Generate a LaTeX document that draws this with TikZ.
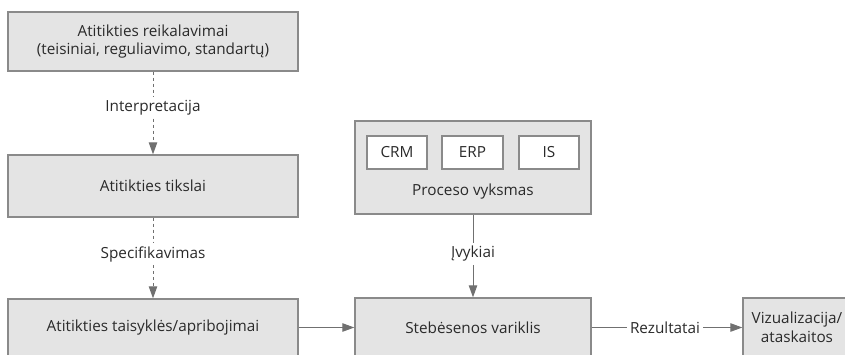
\documentclass[tikz,border=0pt]{standalone}
\usepackage{fontspec}
\setmainfont{Open Sans}
\usetikzlibrary{arrows.meta}
\definecolor{boxfill}{HTML}{E4E4E4}
\definecolor{boxline}{HTML}{8A8A8A}
\definecolor{wire}{HTML}{707070}
\definecolor{ink}{HTML}{2A2A2A}
\begin{document}
\begin{tikzpicture}[x=1pt,y=-1pt,
  font=\fontsize{15.3}{18.5}\selectfont, text=ink,
  block/.style={draw=boxline, line width=1.4pt, fill=boxfill, inner sep=0pt, align=center},
  sysbox/.style={draw=boxline, line width=1.4pt, fill=white, inner sep=0pt},
  tag/.style={inner sep=3pt},
  flow/.style={draw=wire, line width=1pt, -{Triangle[length=12pt,width=8.5pt]}},
  plain/.style={draw=wire, line width=1pt},
  dashline/.style={dash pattern=on 3pt off 3pt}]
\useasboundingbox (0,0) rectangle (845,354);
\clip (0,0) rectangle (845,354);

% left column
\node[block, minimum width=290pt, minimum height=59pt] (req) at (153,41.5)
  {Atitikties reikalavimai\\(teisiniai, reguliavimo, standartų)};
\node[block, minimum width=290pt, minimum height=62pt] (goal) at (153,186) {Atitikties tikslai};
\node[block, minimum width=290pt, minimum height=58pt] (rule) at (153,328) {Atitikties taisyklės/apribojimai};

% process and engine
\node[block, minimum width=236pt, minimum height=93pt] (proc) at (473,167.5) {};
\node[sysbox, minimum width=60pt, minimum height=33pt] (crm) at (397,152.5) {CRM};
\node[sysbox, minimum width=61pt, minimum height=33pt] (erp) at (472.5,152.5) {ERP};
\node[sysbox, minimum width=60pt, minimum height=33pt] (is) at (549,152.5) {IS};
\node (proclabel) at (473,192) {Proceso vyksmas};
\node[block, minimum width=236pt, minimum height=59pt] (eng) at (473,327.5) {Stebėsenos variklis};
\node[block, minimum width=108pt, minimum height=59pt] (viz) at (797,327.5) {Vizualizacija/\\ataskaitos};

% edge labels
\node[tag] (interp) at (153,108) {Interpretacija};
\node[tag] (spec) at (153,254) {Specifikavimas};
\node[tag] (ev) at (473,254) {Įvykiai};
\node[tag] (res) at (665,327.5) {Rezultatai};

% connectors
\draw[plain, dashline] (req.south) -- (interp.north);
\draw[flow, dashline] (interp.south) -- (goal.north);
\draw[plain, dashline] (goal.south) -- (spec.north);
\draw[flow, dashline] (spec.south) -- (rule.north);
\draw[plain] (proc.south) -- (ev.north);
\draw[flow] (ev.south) -- (eng.north);
\draw[flow] (rule.east |- eng.west) -- (eng.west);
\draw[plain] (eng.east) -- (res.west);
\draw[flow] (res.east) -- (viz.west);
\end{tikzpicture}
\end{document}
